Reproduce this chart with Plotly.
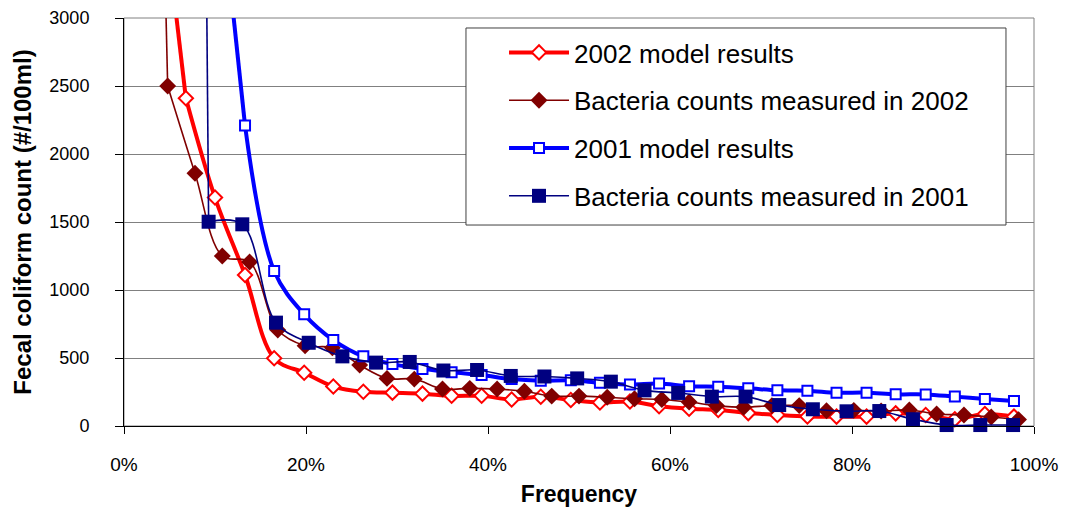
import plotly.graph_objects as go

# Exceedance frequency (%) of the modelled series (shared by both model years)
model_freq = [3.5, 6.8, 10.0, 13.3, 16.5, 19.8, 23.0, 26.3, 29.5, 32.8, 36.0, 39.3,
              42.6, 45.8, 49.1, 52.3, 55.6, 58.8, 62.1, 65.3, 68.6, 71.8, 75.1,
              78.3, 81.6, 84.8, 88.1, 91.3, 94.6, 97.8]

model_2002 = [4300, 2410, 1680, 1110, 498, 392, 290, 252, 245, 238, 222, 222,
              195, 215, 191, 173, 180, 145, 127, 118, 95, 81, 70,
              69, 69, 93, 81, 50, 88, 69]

model_2001_freq = model_freq[2:]
model_2001 = [4300, 2210, 1140, 821, 632, 512, 455, 420, 395,
              375, 345, 333, 336, 318, 305, 312, 292, 289, 277, 262, 260,
              245, 245, 233, 232, 216, 199, 184]

# Measured bacteria counts, 2002
meas_2002_freq = [1.8, 4.8, 7.8, 10.8, 13.8, 16.9, 19.9, 22.9, 25.9, 28.9, 31.9,
                  35.0, 38.0, 41.0, 44.0, 47.0, 50.0, 53.1, 56.1, 59.1, 62.1,
                  65.1, 68.1, 71.2, 74.2, 77.2, 80.2, 83.2, 86.3, 89.3, 92.3,
                  95.3, 98.3]
meas_2002 = [11000, 2500, 1858, 1250, 1206, 706, 590, 575, 448, 350, 345,
             272, 277, 272, 255, 220, 220, 211, 200, 195, 176,
             150, 138, 150, 150, 112, 115, 110, 118, 88, 81,
             66, 47]

# Measured bacteria counts, 2001
meas_2001_freq = [5.6, 9.3, 13.0, 16.7, 20.3, 24.0, 27.7, 31.4, 35.1, 38.8, 42.5,
                  46.2, 49.8, 53.5, 57.2, 60.9, 64.6, 68.3, 72.0, 75.7, 79.4,
                  83.0, 86.7, 90.4, 94.1, 97.7]
meas_2001 = [30000, 1502, 1483, 760, 612, 512, 466, 471, 408, 412, 368,
             364, 350, 326, 262, 243, 216, 216, 154, 123, 108,
             110, 50, 7, 7, 7]

x_ticks = [0, 20, 40, 60, 80, 100]
x_tick_text = ["0%", "20%", "40%", "60%", "80%", "100%"]
y_ticks = [0, 500, 1000, 1500, 2000, 2500, 3000]

FONT = "Liberation Sans, Arial, sans-serif"

fig = go.Figure()

series = [
    dict(name="2002 model results", x=model_freq, y=model_2002,
         line=dict(color="#FF0000", width=4),
         marker=dict(symbol="diamond", size=11, color="white",
                     line=dict(color="#FF0000", width=2))),
    dict(name="Bacteria counts measured in 2002", x=meas_2002_freq, y=meas_2002,
         line=dict(color="#800000", width=1.6),
         marker=dict(symbol="diamond", size=13, color="#800000",
                     line=dict(width=0))),
    dict(name="2001 model results", x=model_2001_freq, y=model_2001,
         line=dict(color="#0000FF", width=4),
         marker=dict(symbol="square", size=10, color="white",
                     line=dict(color="#0000FF", width=2))),
    dict(name="Bacteria counts measured in 2001", x=meas_2001_freq, y=meas_2001,
         line=dict(color="#000080", width=1.6),
         marker=dict(symbol="square", size=14, color="#000080",
                     line=dict(width=0))),
]

for i, s in enumerate(series):
    # steep entry from the off-scale first value: straight segment
    fig.add_trace(go.Scatter(
        x=s["x"][:2], y=s["y"][:2], mode="lines",
        line=dict(s["line"], shape="linear"), showlegend=False,
        hoverinfo="skip", legendgroup=f"g{i}",
    ))
    # remainder of the curve: smoothed line with markers
    fig.add_trace(go.Scatter(
        x=s["x"][1:], y=s["y"][1:], name=s["name"], mode="lines+markers",
        line=dict(s["line"], shape="spline", smoothing=1),
        marker=s["marker"], cliponaxis=False, legendgroup=f"g{i}",
    ))

# plot-area frame (gray), axes drawn on top in black
fig.add_shape(type="rect", xref="x domain", yref="y domain",
              x0=0, y0=0, x1=1, y1=1, line=dict(color="#808080", width=1),
              layer="below")
# legend frame
fig.add_shape(type="rect", xref="x domain", yref="y domain",
              x0=0.3758, y0=0.4926, x1=0.9692, y1=0.9755,
              line=dict(color="#404040", width=1), fillcolor="white",
              layer="above")

fig.update_layout(
    width=1067, height=509,
    margin=dict(l=124, r=33, t=18, b=83, autoexpand=False),
    paper_bgcolor="white", plot_bgcolor="white",
    font=dict(family=FONT, color="black", size=18),
    showlegend=True,
    legend=dict(
        x=0.4176, y=0.973, xanchor="left", yanchor="top",
        bgcolor="rgba(0,0,0,0)", borderwidth=0,
        font=dict(family=FONT, size=26, color="black"),
        traceorder="grouped", tracegroupgap=11, itemwidth=60,
    ),
)

fig.update_xaxes(
    range=[0, 100], tickvals=x_ticks, ticktext=x_tick_text, automargin=False,
    showgrid=False, zeroline=False,
    showline=True, linecolor="black", linewidth=1,
    ticks="outside", ticklen=7, tickcolor="black", ticklabelstandoff=14,
    tickfont=dict(family=FONT, size=19, color="black"),
    title=dict(text="<b>Frequency</b>", font=dict(family=FONT, size=23, color="black"),
               standoff=12),
)
fig.update_yaxes(
    range=[0, 3000], tickvals=y_ticks, automargin=False,
    showgrid=True, gridcolor="#808080", gridwidth=1, zeroline=False,
    showline=True, linecolor="black", linewidth=1,
    ticks="outside", ticklen=8, tickcolor="black", ticklabelstandoff=22,
    tickfont=dict(family=FONT, size=18, color="black"),
    title=dict(text="<b>Fecal coliform count (#/100ml)</b>",
               font=dict(family=FONT, size=24, color="black"), standoff=10),
)

fig.write_html("out.html")
